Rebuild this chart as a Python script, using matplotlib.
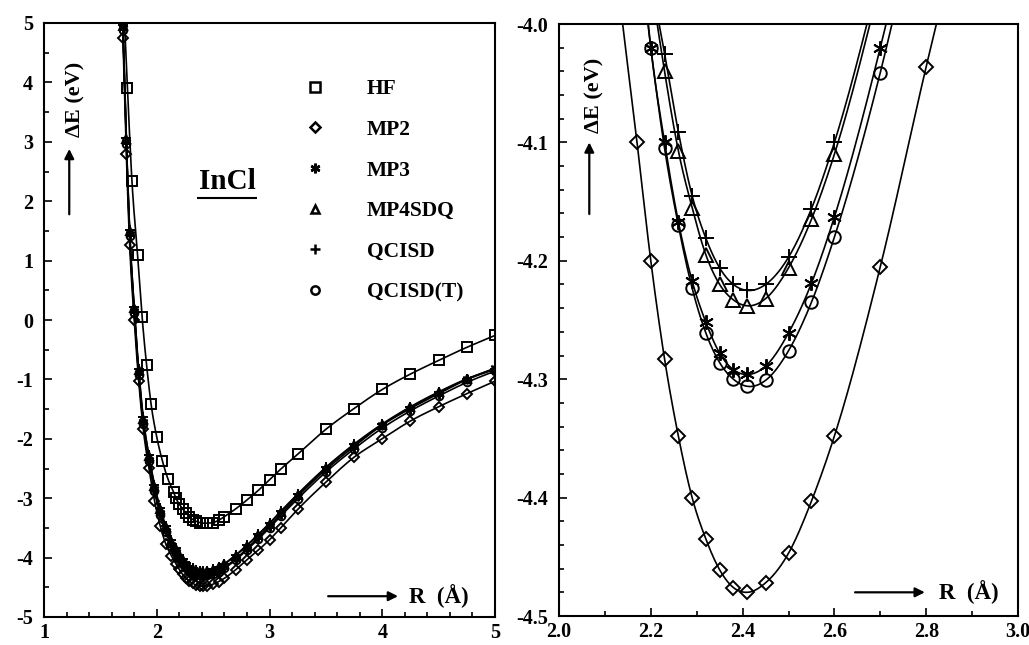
import numpy as np
import matplotlib
matplotlib.use("Agg")
import matplotlib.pyplot as plt
from matplotlib.ticker import MultipleLocator, FormatStrFormatter
from matplotlib.lines import Line2D

plt.rcParams['font.family'] = ['Liberation Serif', 'DejaVu Serif']
plt.rcParams['font.weight'] = 'bold'
plt.rcParams['axes.unicode_minus'] = False

# ---------------- data ----------------
r_hf = [1.70, 1.74, 1.78, 1.83, 1.87, 1.91, 1.95, 2.00, 2.05, 2.10, 2.15, 2.17, 2.20, 2.23,
        2.26, 2.29, 2.32, 2.35, 2.38, 2.41, 2.45, 2.50, 2.55, 2.60, 2.70, 2.80, 2.90,
        3.00, 3.10, 3.25, 3.50, 3.75, 4.00, 4.25, 4.50, 4.75, 5.00]
e_hf = [5.60, 3.90, 2.34, 1.09, 0.05, -0.76, -1.42, -1.97, -2.37, -2.68, -2.90, -3.00, -3.10,
        -3.18, -3.25, -3.31, -3.36, -3.39, -3.41, -3.42, -3.42, -3.41, -3.37, -3.31,
        -3.18, -3.03, -2.87, -2.69, -2.51, -2.26, -1.84, -1.49, -1.17, -0.91, -0.68,
        -0.46, -0.26]

r_corr = [1.70, 1.73, 1.76, 1.80, 1.84, 1.88, 1.93, 1.98, 2.03, 2.08, 2.13, 2.17, 2.20,
          2.23, 2.26, 2.29, 2.32, 2.35, 2.38, 2.41, 2.45, 2.50, 2.55, 2.60, 2.70, 2.80,
          2.90, 3.00, 3.10, 3.25, 3.50, 3.75, 4.00, 4.25, 4.50, 4.75, 5.00]
e_mp2 = [4.74, 2.79, 1.26, 0.00, -1.03, -1.83, -2.49, -3.04, -3.46, -3.77, -3.97, -4.100,
         -4.200, -4.283, -4.348, -4.400, -4.435, -4.461, -4.476, -4.480, -4.472, -4.447,
         -4.403, -4.348, -4.205, -4.036, -3.875, -3.70, -3.50, -3.19, -2.73, -2.31,
         -2.00, -1.70, -1.46, -1.24, -1.03]
e_mp3 = [4.91, 3.00, 1.44, 0.15, -0.90, -1.72, -2.35, -2.85, -3.25, -3.55, -3.78, -3.90,
         -4.020, -4.100, -4.167, -4.217, -4.252, -4.278, -4.292, -4.296, -4.289, -4.261,
         -4.219, -4.163, -4.020, -3.85, -3.66, -3.47, -3.27, -2.97, -2.52, -2.13, -1.77,
         -1.49, -1.24, -1.00, -0.81]
e_mp4sdq = [4.95, 3.05, 1.49, 0.20, -0.85, -1.66, -2.29, -2.79, -3.19, -3.48, -3.72, -3.85,
            -3.960, -4.040, -4.107, -4.155, -4.195, -4.220, -4.233, -4.238, -4.232, -4.206,
            -4.165, -4.110, -3.965, -3.80, -3.62, -3.43, -3.23, -2.94, -2.49, -2.10, -1.76,
            -1.47, -1.22, -1.00, -0.83]
e_qcisd = [4.97, 3.07, 1.51, 0.22, -0.83, -1.64, -2.27, -2.77, -3.17, -3.46, -3.70, -3.83,
           -3.955, -4.025, -4.091, -4.145, -4.181, -4.206, -4.220, -4.225, -4.220, -4.197,
           -4.156, -4.100, -3.955, -3.79, -3.61, -3.42, -3.22, -2.93, -2.48, -2.09, -1.75,
           -1.46, -1.21, -0.99, -0.82]
e_qcisdt = [4.88, 2.97, 1.41, 0.12, -0.93, -1.75, -2.38, -2.88, -3.28, -3.57, -3.81, -3.92,
            -4.020, -4.105, -4.170, -4.223, -4.261, -4.286, -4.300, -4.306, -4.301, -4.276,
            -4.235, -4.180, -4.041, -3.87, -3.69, -3.50, -3.30, -3.01, -2.56, -2.17, -1.82,
            -1.53, -1.28, -1.05, -0.86]

methods = ['HF', 'MP2', 'MP3', 'MP4SDQ', 'QCISD', 'QCISD(T)']
series = {
    'HF': (r_hf, e_hf),
    'MP2': (r_corr, e_mp2),
    'MP3': (r_corr, e_mp3),
    'MP4SDQ': (r_corr, e_mp4sdq),
    'QCISD': (r_corr, e_qcisd),
    'QCISD(T)': (r_corr, e_qcisdt),
}

left_xticks = [1, 2, 3, 4, 5]
left_yticks = [-5, -4, -3, -2, -1, 0, 1, 2, 3, 4, 5]
right_xticks = [2.0, 2.2, 2.4, 2.6, 2.8, 3.0]
right_yticks = [-4.5, -4.4, -4.3, -4.2, -4.1, -4.0]

# ---------------- styles ----------------
STAR = (6, 2, 0)
style_left = {
    'HF': dict(marker='s', ms=7.5),
    'MP2': dict(marker='D', ms=4.8),
    'MP3': dict(marker=STAR, ms=7),
    'MP4SDQ': dict(marker='^', ms=6),
    'QCISD': dict(marker='+', ms=7),
    'QCISD(T)': dict(marker='o', ms=5.5),
}
style_right = {
    'MP2': dict(marker='D', ms=7.5),
    'MP3': dict(marker=STAR, ms=10.5),
    'MP4SDQ': dict(marker='^', ms=9.5),
    'QCISD': dict(marker='+', ms=12),
    'QCISD(T)': dict(marker='o', ms=9),
}


def smooth(x, y, n=25):
    x = np.asarray(x, float)
    y = np.asarray(y, float)
    h = np.diff(x)
    d = np.diff(y) / h
    m = np.empty_like(y)
    m[0], m[-1] = d[0], d[-1]
    m[1:-1] = (h[1:] * d[:-1] + h[:-1] * d[1:]) / (h[:-1] + h[1:])
    xs, ys = [], []
    t = np.linspace(0, 1, n, endpoint=False)
    for i in range(len(x) - 1):
        h00 = 2 * t**3 - 3 * t**2 + 1
        h10 = t**3 - 2 * t**2 + t
        h01 = -2 * t**3 + 3 * t**2
        h11 = t**3 - t**2
        xs.append(x[i] + t * h[i])
        ys.append(h00 * y[i] + h10 * h[i] * m[i] + h01 * y[i + 1] + h11 * h[i] * m[i + 1])
    xs.append([x[-1]])
    ys.append([y[-1]])
    return np.concatenate(xs), np.concatenate(ys)


fig = plt.figure(figsize=(10.29, 6.45), dpi=100)
ax1 = fig.add_axes([44 / 1029, 28 / 645, 451 / 1029, 594 / 645])
ax2 = fig.add_axes([559 / 1029, 29 / 645, 459 / 1029, 592 / 645])

for name in methods:
    r, e = series[name]
    xs, ys = smooth(r, e)
    ax1.plot(xs, ys, color='black', lw=1.2, zorder=2)
    ax1.plot(r, e, linestyle='none', color='black', mfc='none', mew=1.4,
             zorder=3, **style_left[name])
    if name in style_right:
        ax2.plot(xs, ys, color='black', lw=1.2, zorder=2)
        ax2.plot(r, e, linestyle='none', color='black', mfc='none', mew=1.4,
                 zorder=3, **style_right[name])

ax1.set_xlim(1, 5)
ax1.set_ylim(-5, 5)
ax1.set_xticks(left_xticks)
ax1.set_yticks(left_yticks)
ax1.xaxis.set_minor_locator(MultipleLocator(0.2))
ax1.yaxis.set_minor_locator(MultipleLocator(0.5))
ax1.xaxis.set_major_formatter(FormatStrFormatter('%d'))
ax1.yaxis.set_major_formatter(FormatStrFormatter('%d'))

ax2.set_xlim(2.0, 3.0)
ax2.set_ylim(-4.5, -4.0)
ax2.set_xticks(right_xticks)
ax2.set_yticks(right_yticks)
ax2.xaxis.set_minor_locator(MultipleLocator(0.1))
ax2.yaxis.set_minor_locator(MultipleLocator(0.02))
ax2.xaxis.set_major_formatter(FormatStrFormatter('%.1f'))
ax2.yaxis.set_major_formatter(FormatStrFormatter('%.1f'))

for ax in (ax1, ax2):
    for sp in ax.spines.values():
        sp.set_linewidth(1.5)
    ax.tick_params(which='both', direction='in', width=1.2, labelsize=14.5)
    ax.tick_params(axis='y', pad=8)
    ax.tick_params(axis='x', pad=4)
    ax.tick_params(which='major', length=6)
    ax.tick_params(which='minor', length=3.5)
    for lab in ax.get_xticklabels() + ax.get_yticklabels():
        lab.set_fontweight('bold')

# axis annotations (arrows + labels)
def axis_labels(ax, ylab_x, ylab_y, yarr_x, yarr_y0, yarr_y1,
                xarr_x0, xarr_x1, xarr_y, xlab_x):
    ax.text(ylab_x, ylab_y, 'ΔE (eV)', transform=ax.transAxes, rotation=90,
            ha='center', va='center', fontsize=16, fontweight='bold')
    ax.annotate('', xy=(yarr_x, yarr_y1), xytext=(yarr_x, yarr_y0),
                xycoords='axes fraction',
                arrowprops=dict(arrowstyle='-|>', color='black', lw=1.6,
                                mutation_scale=14, shrinkA=0, shrinkB=0))
    ax.annotate('', xy=(xarr_x1, xarr_y), xytext=(xarr_x0, xarr_y),
                xycoords='axes fraction',
                arrowprops=dict(arrowstyle='-|>', color='black', lw=1.6,
                                mutation_scale=14, shrinkA=0, shrinkB=0))
    ax.text(xlab_x, xarr_y, 'R  (Å)', transform=ax.transAxes, ha='left',
            va='center', fontsize=16.5, fontweight='bold')

axis_labels(ax1, 0.069, 0.872, 0.056, 0.678, 0.788, 0.63, 0.785, 0.035, 0.81)
axis_labels(ax2, 0.078, 0.88, 0.066, 0.679, 0.80, 0.645, 0.797, 0.040, 0.828)

# InCl title with underline
ax1.text(0.406, 0.734, 'InCl', transform=ax1.transAxes, ha='center', va='center',
         fontsize=21, fontweight='bold')
ax1.plot([0.339, 0.472], [0.706, 0.706], transform=ax1.transAxes, color='black',
         lw=1.5, solid_capstyle='butt')

# legend
handles = [Line2D([], [], linestyle='none', color='black', mfc='none', mew=1.8,
                  marker=style_left[m]['marker'],
                  ms={'HF': 6.5, 'MP2': 5, 'MP3': 7, 'MP4SDQ': 6, 'QCISD': 7.5,
                      'QCISD(T)': 6}[m]) for m in methods]
leg = ax1.legend(handles, methods, loc='upper left', bbox_to_anchor=(0.578, 0.905),
                 frameon=False, handlelength=1.0, handletextpad=1.9, labelspacing=0.95,
                 borderpad=0, borderaxespad=0,
                 prop={'family': 'Liberation Serif', 'weight': 'bold', 'size': 15.5})

fig.savefig('out.png', dpi=100)
